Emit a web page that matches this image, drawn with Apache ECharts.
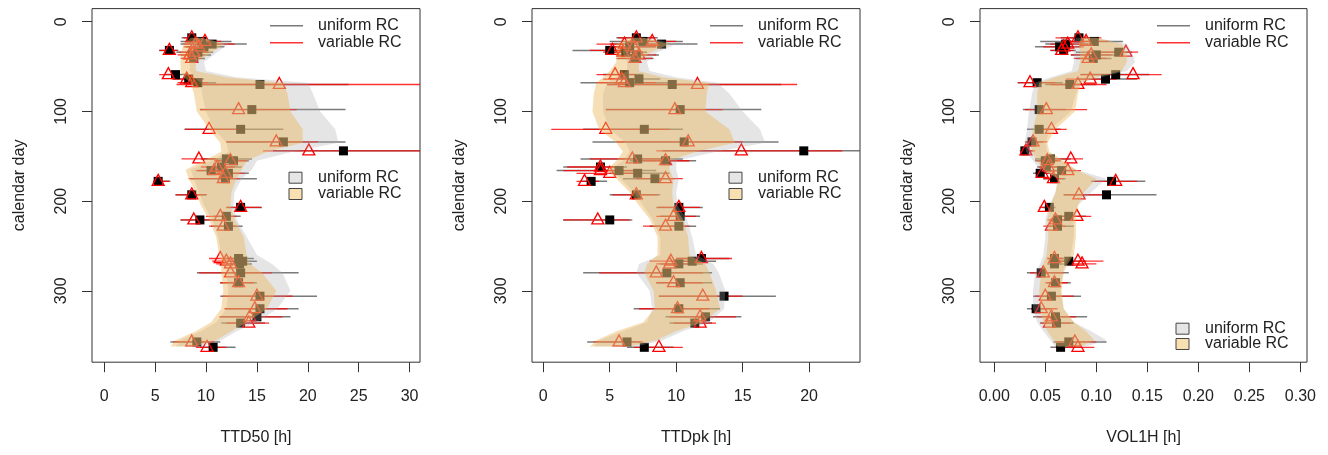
<!DOCTYPE html>
<html><head><meta charset="utf-8">
<script src="https://cdn.jsdelivr.net/npm/echarts@6/dist/echarts.min.js"></script>
<style>html,body{margin:0;padding:0;background:#fff}#c{width:1328px;height:455px}</style>
</head><body><div id="c"></div>
<script>
// ---- event days (shared by all panels) ----
const days = [18,22,25,28,32,34,37,41,59,64,68,70,98,120,134,144,153,155,162,166,169,175,178,193,207,217,221,228,264,267,270,280,291,306,320,329,336,357,363];

// ---- TTD50 [h] ----
const ttd50U   = [8.6,9.6,10.6,9.8,6.4,9.2,8.7,8.8, 7.0,8.3,9.2,15.3, 14.5,13.4,17.6,23.5, 12.0,12.7,11.5,10.5,12.2,11.9,5.3, 8.6,13.4,12.0,9.4,12.2, 13.2,13.6,13.3,13.4,13.2, 15.3,15.3,15.0,13.4, 9.1,10.7];
const ttd50ULo = [7.6,7.5,7.5,8.0,5.4,7.1,7.5,7.7, 6.0,6.8,7.8,8.2, 9.4,7.9,12.0,16.6, 9.5,11.0,10.0,9.2,10.6,8.5,4.8, 7.0,12.0,10.7,7.5,10.5, 12.0,12.3,12.0,9.1,11.4, 11.4,11.9,11.4,11.5, 6.5,9.4];
const ttd50UHi = [9.8,12.5,14.0,11.8,7.3,10.7,10.5,9.9, 8.2,9.8,11.0,24.0, 23.7,17.6,23.7,34, 14.5,14.2,13.5,12.5,14.2,15.0,6.5, 10.1,15.5,13.4,11.6,13.6, 14.7,15.0,14.5,19.1,15.0, 20.9,19.1,18.3,15.8, 11.4,12.9];
const ttd50V   = [8.6,9.9,9.0,9.3,6.4,8.8,8.4,8.6, 6.3,8.1,8.6,17.2, 13.2,10.3,16.9,20.1, 9.3,12.4,11.1,10.8,11.9,11.7,5.3, 8.6,13.4,11.4,8.8,11.7, 11.4,12.0,12.4,12.4,13.2, 15.0,14.8,14.3,14.2, 8.6,10.1];
const ttd50VLo = [7.8,8.2,7.8,7.8,5.4,7.4,7.2,7.5, 5.4,6.7,7.2,7.1, 9.4,7.9,12.0,15.6, 7.6,10.8,9.5,9.0,10.2,8.3,4.8, 7.0,12.0,10.0,7.5,10.3, 10.3,10.6,11.0,9.3,11.4, 11.6,11.8,11.3,12.0, 6.8,9.0];
const ttd50VHi = [9.6,11.5,12.8,11.0,7.2,10.2,9.8,9.6, 7.3,9.6,10.2,34, 18.9,13.0,21.0,34, 11.0,14.0,12.8,12.5,13.8,13.3,6.4, 10.0,15.4,13.0,10.8,13.0, 13.0,13.8,13.6,16.5,14.7, 18.5,18.0,17.5,16.2, 10.8,12.0];

// ---- TTDpk [h] ----
const ttdpkU   = [7.0,7.5,8.9,6.5,5.0,6.2,7.0,6.9, 6.1,7.2,6.5,9.7, 10.3,7.6,10.6,19.6, 7.1,9.2,4.3,5.7,7.1,8.4,3.6, 7.0,10.2,10.3,5.0,10.2, 11.9,11.2,10.2,9.3,10.3, 13.6,10.2,12.2,11.4, 6.3,7.6];
const ttdpkULo = [5.5,5.0,5.0,4.8,2.2,4.8,5.5,5.5, 4.5,5.5,2.8,4.8, 4.7,3.0,3.7,9.0, 2.8,6.5,1.5,1.0,5.0,6.0,2.8, 5.0,8.5,8.8,1.5,8.0, 10.0,9.5,8.8,3.0,8.5, 8.7,6.8,9.2,9.5, 3.3,6.3];
const ttdpkUHi = [8.6,10.5,11.6,8.5,6.3,7.8,8.7,8.3, 7.5,8.8,10.0,17.9, 16.4,10.5,17.7,26, 10.5,11.5,6.3,8.5,9.5,9.8,4.8, 8.8,12.0,11.8,6.7,11.5, 14.0,13.0,12.0,12.7,12.7, 17.5,13.3,14.9,12.7, 7.3,9.8];
const ttdpkV   = [7.0,8.2,6.1,6.8,5.2,6.0,7.2,6.9, 5.4,5.9,6.1,11.6, 9.9,4.7,10.9,14.9, 6.7,9.2,4.3,4.3,5.0,9.2,3.1, 7.0,10.2,9.8,4.1,9.2, 11.9,9.6,9.5,8.5,9.8, 12.0,10.1,11.8,11.8, 5.7,8.7];
const ttdpkVLo = [5.6,6.5,4.0,5.0,3.5,4.5,5.8,5.6, 4.0,4.5,4.0,4.8, 4.7,0.6,5.5,8.5, 3.5,6.8,1.8,1.5,2.5,7.0,2.5, 5.2,8.6,8.5,1.5,7.5, 10.0,8.0,8.5,4.2,8.5, 8.7,7.2,9.5,9.8, 3.8,6.8];
const ttdpkVHi = [8.4,10.0,8.5,8.5,6.5,7.5,8.5,8.2, 7.0,7.5,8.5,19.1, 13.5,9.5,15.0,22.5, 9.5,11.0,6.0,7.0,7.5,10.5,4.2, 8.6,11.8,11.5,6.5,11.0, 14.2,11.0,11.0,12.0,12.0, 15.0,12.5,14.5,13.0, 7.5,10.5];

// ---- VOL1H [h] ----
const vol1hU   = [0.083,0.098,0.070,0.064,0.068,0.122,0.100,0.097, 0.119,0.109,0.042,0.074, 0.044,0.044,0.037,0.030, 0.055,0.050,0.051,0.066,0.045,0.059,0.115, 0.110,0.054,0.073,0.062,0.062, 0.059,0.073,0.059,0.046,0.060, 0.056,0.041,0.060,0.061, 0.073,0.065];
const vol1hULo = [0.065,0.045,0.050,0.040,0.055,0.080,0.075,0.080, 0.085,0.080,0.023,0.050, 0.028,0.032,0.030,0.025, 0.040,0.040,0.042,0.055,0.038,0.048,0.095, 0.068,0.047,0.060,0.055,0.052, 0.052,0.060,0.052,0.032,0.052, 0.038,0.032,0.038,0.045, 0.058,0.055];
const vol1hUHi = [0.100,0.126,0.095,0.085,0.080,0.135,0.125,0.115, 0.152,0.140,0.067,0.100, 0.070,0.065,0.048,0.038, 0.075,0.062,0.062,0.080,0.055,0.070,0.148, 0.159,0.060,0.090,0.072,0.078, 0.068,0.090,0.068,0.073,0.075, 0.085,0.055,0.091,0.078, 0.110,0.085];
const vol1hV   = [0.082,0.090,0.072,0.068,0.066,0.129,0.095,0.092, 0.136,0.094,0.035,0.082, 0.051,0.056,0.038,0.031, 0.075,0.052,0.053,0.072,0.047,0.058,0.119, 0.083,0.049,0.081,0.060,0.056, 0.059,0.082,0.086,0.048,0.059, 0.050,0.046,0.056,0.054, 0.079,0.082];
const vol1hVLo = [0.060,0.070,0.055,0.048,0.055,0.095,0.075,0.078, 0.084,0.070,0.023,0.055, 0.030,0.040,0.031,0.026, 0.058,0.042,0.044,0.060,0.040,0.048,0.098, 0.068,0.044,0.062,0.052,0.048, 0.052,0.065,0.070,0.035,0.050, 0.040,0.036,0.042,0.045, 0.060,0.060];
const vol1hVHi = [0.105,0.112,0.092,0.088,0.078,0.141,0.115,0.110, 0.164,0.120,0.060,0.110, 0.091,0.071,0.052,0.040, 0.087,0.065,0.065,0.085,0.058,0.068,0.140, 0.110,0.057,0.095,0.070,0.070, 0.068,0.107,0.100,0.068,0.072, 0.078,0.062,0.080,0.075, 0.100,0.098];

// ---- envelope bands ----
const bandDays = [18,25,35,45,55,62,68,80,100,120,135,145,155,165,175,190,205,220,240,260,270,280,300,320,335,345,355,362];
const ttd50BandULo = [8.8,8.5,8.3,8.4,8.4,8.8,9.5,9.6,10.0,10.8,12.0,12.2,10.5,8.5,8.8,9.3,9.8,10.6,11.2,11.5,11.8,12.0,12.2,12.0,11.0,9.5,7.5,7.0];
const ttd50BandUHi = [9.6,12.2,11.0,9.8,10.0,13.0,20.0,20.5,21.2,22.7,23.0,18.5,15.0,14.5,13.5,12.8,12.7,13.0,14.0,15.0,16.5,17.5,18.3,17.0,15.0,13.0,11.5,9.5];
const ttd50BandVLo = [8.5,7.8,7.5,7.5,7.5,7.8,8.5,8.8,9.1,10.3,11.4,11.5,9.8,8.0,8.3,9.0,9.5,10.3,11.0,11.3,11.5,11.5,11.7,11.5,10.5,9.0,7.0,6.5];
const ttd50BandVHi = [9.5,11.8,10.5,9.0,9.0,12.0,17.6,18.0,18.3,19.5,19.5,16.0,14.0,13.5,13.0,12.5,12.4,12.8,13.7,14.0,14.3,15.5,16.9,16.0,14.0,12.5,11.0,9.0];

const ttdpkBandULo = [6.8,6.0,6.0,6.3,6.3,5.5,4.8,4.5,4.5,5.0,6.2,6.5,6.0,5.0,5.8,6.8,7.5,8.2,8.8,8.8,7.2,7.0,8.0,8.2,7.8,6.0,4.2,3.8];
const ttdpkBandUHi = [7.8,10.0,8.5,7.8,8.0,10.0,13.1,14.0,15.0,16.3,16.7,13.0,10.0,10.0,10.2,10.0,10.1,10.8,11.2,11.5,12.8,13.2,13.7,13.6,12.5,10.5,9.0,7.0];
const ttdpkBandVLo = [6.5,5.5,5.5,5.5,5.0,4.5,4.0,3.8,3.7,4.2,5.5,6.0,5.5,4.8,5.5,6.5,7.2,8.0,8.6,8.6,7.8,7.6,8.3,8.4,7.5,5.5,4.0,3.5];
const ttdpkBandVHi = [7.5,9.5,8.0,7.2,7.2,9.0,12.5,12.3,12.2,14.0,14.4,11.5,9.5,9.5,9.8,9.7,9.8,10.5,10.9,11.0,12.2,12.5,13.0,13.3,12.0,10.0,8.5,6.5];

const vol1hBandULo = [0.080,0.078,0.078,0.078,0.076,0.055,0.040,0.037,0.034,0.032,0.030,0.031,0.038,0.045,0.062,0.060,0.054,0.050,0.050,0.048,0.045,0.040,0.038,0.038,0.042,0.048,0.055,0.060];
const vol1hBandUHi = [0.100,0.130,0.135,0.138,0.130,0.105,0.085,0.080,0.075,0.055,0.050,0.052,0.065,0.080,0.110,0.095,0.082,0.078,0.078,0.075,0.070,0.067,0.065,0.068,0.078,0.095,0.110,0.090];
const vol1hBandVLo = [0.085,0.083,0.084,0.084,0.082,0.060,0.044,0.042,0.042,0.038,0.036,0.037,0.042,0.048,0.063,0.060,0.055,0.052,0.053,0.051,0.048,0.046,0.044,0.045,0.048,0.052,0.058,0.062];
const vol1hBandVHi = [0.100,0.125,0.130,0.130,0.125,0.100,0.085,0.082,0.079,0.060,0.052,0.054,0.068,0.080,0.100,0.088,0.082,0.080,0.080,0.078,0.072,0.068,0.066,0.068,0.078,0.090,0.098,0.085];

// ---- axes ----
const ttd50Ticks = [0,5,10,15,20,25,30];
const ttdpkTicks = [0,5,10,15,20];
const vol1hTicks = [0,0.05,0.1,0.15,0.2,0.25,0.3];
const dayTicks = [0,100,200,300];
const xNames = ['TTD50 [h]','TTDpk [h]','VOL1H [h]'];
const yName = 'calendar day';
const legendLineNames = ['uniform RC','variable RC'];
const legendFillNames = ['uniform RC','variable RC'];

const FONT = 'Liberation Sans, Arial, sans-serif';
const GREY_BAR = 'rgba(85,85,85,0.78)';
const RED_BAR = 'rgba(255,0,0,0.8)';
const GREY_BAND = 'rgba(170,170,170,0.30)';
const ORANGE_BAND = 'rgba(234,182,88,0.44)';

const panels = [
  {left:92, right:420, min:-1.2, max:31.02, ticks:ttd50Ticks, fmt:v=>String(v),
   U:ttd50U,ULo:ttd50ULo,UHi:ttd50UHi,V:ttd50V,VLo:ttd50VLo,VHi:ttd50VHi,
   bUL:ttd50BandULo,bUH:ttd50BandUHi,bVL:ttd50BandVLo,bVH:ttd50BandVHi, fillLegendY:[177.7,194]},
  {left:532, right:860, min:-0.85, max:23.83, ticks:ttdpkTicks, fmt:v=>String(v),
   U:ttdpkU,ULo:ttdpkULo,UHi:ttdpkUHi,V:ttdpkV,VLo:ttdpkVLo,VHi:ttdpkVHi,
   bUL:ttdpkBandULo,bUH:ttdpkBandUHi,bVL:ttdpkBandVLo,bVH:ttdpkBandVHi, fillLegendY:[177.7,194]},
  {left:980, right:1307, min:-0.014, max:0.3065, ticks:vol1hTicks, fmt:v=>v.toFixed(2),
   U:vol1hU,ULo:vol1hULo,UHi:vol1hUHi,V:vol1hV,VLo:vol1hVLo,VHi:vol1hVHi,
   bUL:vol1hBandULo,bUH:vol1hBandUHi,bVL:vol1hBandVLo,bVH:vol1hBandVHi, fillLegendY:[328.7,344]}
];

const GRID_TOP = 8.6, GRID_H = 353.6;
const grid = [], xAxis = [], yAxis = [], series = [], graphic = [];

function errSeries(g, lo, hi, color, w, z, name){
  return {type:'custom', name, xAxisIndex:g, yAxisIndex:g, z, clip:true, silent:true,
    data: days.map((d,i)=>[lo[i], hi[i], d]),
    encode:{x:[0,1], y:2},
    renderItem:(params, api)=>{
      const a = api.coord([api.value(0), api.value(2)]);
      const b = api.coord([api.value(1), api.value(2)]);
      return {type:'line', shape:{x1:a[0],y1:a[1],x2:b[0],y2:b[1]}, style:{stroke:color, lineWidth:w}};
    }};
}
function bandSeries(g, lo, hi, color, z, name){
  return {type:'custom', name, xAxisIndex:g, yAxisIndex:g, z, clip:true, silent:true,
    data: bandDays.map((d,i)=>[lo[i], hi[i], d]),
    encode:{x:[0,1], y:2},
    renderItem:(params, api)=>{
      if (params.dataIndex !== 0) return null;
      const pts = [];
      for (let i=0;i<bandDays.length;i++) pts.push(api.coord([lo[i], bandDays[i]]));
      for (let i=bandDays.length-1;i>=0;i--) pts.push(api.coord([hi[i], bandDays[i]]));
      return {type:'polygon', shape:{points:pts}, style:{fill:color, stroke:null}};
    }};
}

panels.forEach((p,g)=>{
  grid.push({left:p.left, top:GRID_TOP, width:p.right-p.left, height:GRID_H, show:true,
    borderColor:'#333', borderWidth:1, backgroundColor:'transparent'});
  xAxis.push({gridIndex:g, type:'value', min:p.min, max:p.max, position:'bottom',
    axisLine:{show:false, onZero:false}, splitLine:{show:false},
    axisTick:{show:true, inside:false, length:10, customValues:p.ticks, lineStyle:{color:'#333'}},
    axisLabel:{customValues:p.ticks, formatter:p.fmt, margin:26, fontSize:16, color:'#222', fontFamily:FONT},
    name:xNames[g], nameLocation:'middle', nameGap:67,
    nameTextStyle:{fontSize:16, color:'#222', fontFamily:FONT}});
  yAxis.push({gridIndex:g, type:'value', inverse:true, min:-14.6, max:379.6, position:'left',
    axisLine:{show:false, onZero:false}, splitLine:{show:false},
    axisTick:{show:true, inside:false, length:10, customValues:dayTicks, lineStyle:{color:'#333'}},
    axisLabel:{customValues:dayTicks, rotate:90, margin:22, fontSize:16, color:'#222', fontFamily:FONT},
    name:yName, nameLocation:'middle', nameGap:64, nameRotate:90,
    nameTextStyle:{fontSize:16, color:'#222', fontFamily:FONT}});

  series.push(errSeries(g, p.ULo, p.UHi, GREY_BAR, 1.5, 2, 'uniform RC'));
  series.push(errSeries(g, p.VLo, p.VHi, RED_BAR, 1.3, 3, 'variable RC'));
  series.push({type:'scatter', name:'uniform RC', xAxisIndex:g, yAxisIndex:g, z:4, silent:true,
    symbol:'rect', symbolSize:9, itemStyle:{color:'#000', opacity:1},
    data: days.map((d,i)=>[p.U[i], d])});
  series.push({type:'scatter', name:'variable RC', xAxisIndex:g, yAxisIndex:g, z:5, silent:true,
    symbol:'triangle', symbolSize:[12,11], symbolOffset:[0,-1.5],
    itemStyle:{color:'rgba(0,0,0,0)', borderColor:'#ff0000', borderWidth:1.3, opacity:1},
    data: days.map((d,i)=>[p.V[i], d])});
  series.push(bandSeries(g, p.bUL, p.bUH, GREY_BAND, 6, 'uniform RC band'));
  series.push(bandSeries(g, p.bVL, p.bVH, ORANGE_BAND, 7, 'variable RC band'));

  // legends (R-style, anchored to the plot's right edge)
  const R = p.right;
  const lineColors = [GREY_BAR, RED_BAR];
  [25.7, 42.7].forEach((y,k)=>{
    graphic.push({type:'line', z:100, shape:{x1:R-150, y1:y, x2:R-117, y2:y}, style:{stroke:lineColors[k], lineWidth:1.6}});
    graphic.push({type:'text', z:100, style:{text:legendLineNames[k], x:R-102, y:y, fill:'#222', fontSize:16, fontFamily:FONT, verticalAlign:'middle', align:'left'}});
  });
  const fills = ['rgb(229,229,229)','rgb(248,224,178)'];
  p.fillLegendY.forEach((y,k)=>{
    graphic.push({type:'rect', z:100, shape:{x:R-131, y:y-5.5, width:13, height:11}, style:{fill:fills[k], stroke:'#444', lineWidth:1}});
    graphic.push({type:'text', z:100, style:{text:legendFillNames[k], x:R-102, y:y, fill:'#222', fontSize:16, fontFamily:FONT, verticalAlign:'middle', align:'left'}});
  });
});

const chart = echarts.init(document.getElementById('c'), null, {renderer:'canvas'});
chart.setOption({animation:false, backgroundColor:'#fff', grid, xAxis, yAxis, series, graphic});
</script></body></html>
